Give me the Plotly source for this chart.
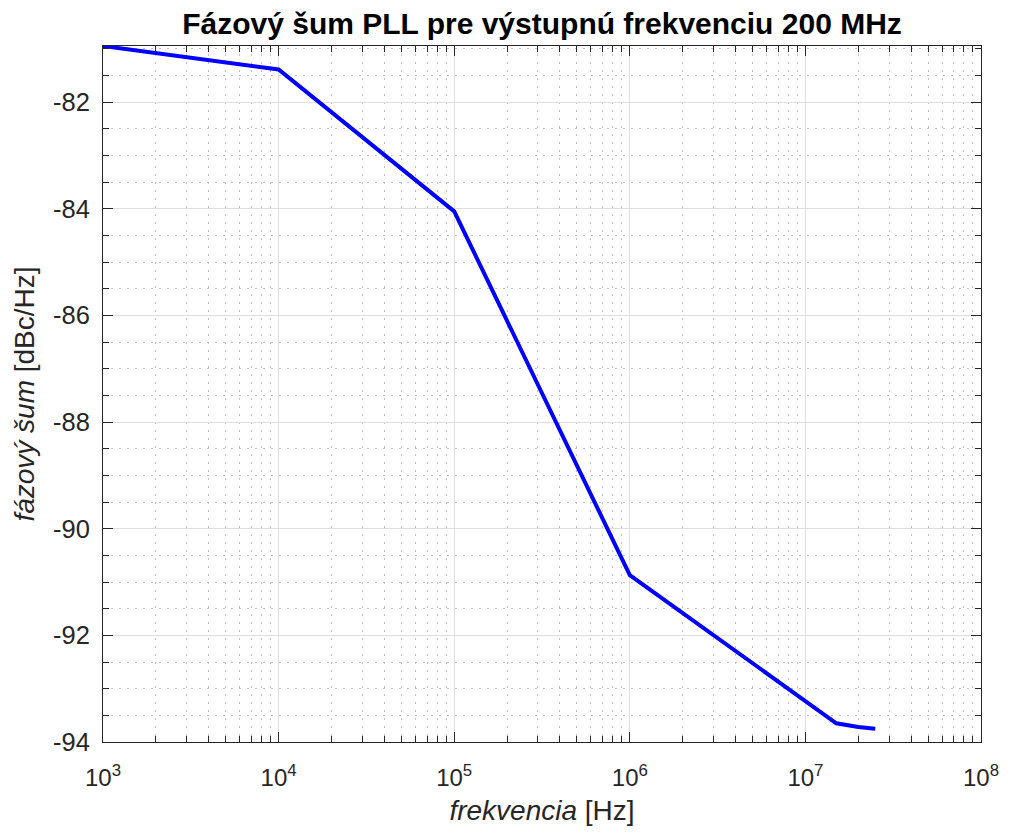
import plotly.graph_objects as go

# Data
freq_hz = [1e3, 1e4, 1e5, 1e6, 1.5e7, 2e7, 2.5e7]
phase_noise_dbc = [-80.95, -81.39, -84.05, -90.87, -93.65, -93.72, -93.75]

x_major_exp = [3, 4, 5, 6, 7, 8]
x_tick_text = ["10<sup>%d</sup>" % e for e in x_major_exp]
y_major = [-94, -92, -90, -88, -86, -84, -82]
y_tick_text = [str(v) for v in y_major]

title_text = "<b>Fázový šum PLL pre výstupnú frekvenciu 200 MHz</b>"
x_title = "<i>frekvencia</i> [Hz]"
y_title = "<i>fázový šum</i> [dBc/Hz]"

x_major_vals = [10 ** e for e in x_major_exp]
x_minor_vals = [m * 10 ** e for e in x_major_exp[:-1] for m in range(2, 10)]
y_minor_vals = [v / 2 for v in range(-188, -161)]

FONT = "Liberation Sans, Arial, Helvetica, sans-serif"
TXT = "#262626"

W, H = 1009, 834
L, R, T, B = 95, 36, 38, 100

fig = go.Figure()
fig.add_trace(go.Scatter(
    x=freq_hz, y=phase_noise_dbc, mode="lines",
    line=dict(color="#0000ff", width=4),
    showlegend=False, hoverinfo="x+y",
))

axis_common = dict(
    showline=True, linecolor=TXT, linewidth=1, mirror="ticks",
    ticks="inside", tickcolor=TXT, ticklen=10, tickwidth=1,
    showgrid=True, gridcolor="#dedede", gridwidth=1,
    zeroline=False,
)
minor_common = dict(tickmode="array", ticks="inside", ticklen=6, tickcolor=TXT,
                    showgrid=True, gridcolor="#c2c2c2", griddash="2px,6px",
                    gridwidth=1)

fig.update_layout(
    width=W, height=H,
    paper_bgcolor="white", plot_bgcolor="white",
    margin=dict(l=L, r=R, t=T, b=B, autoexpand=False),
    title=dict(text=title_text, x=(L + (W - R)) / 2 / W, xanchor="center",
               y=1 - 15.5 / H, yanchor="middle",
               font=dict(family=FONT, size=30, color="#000000")),
    xaxis=dict(
        type="log", range=[3, 8], tickmode="array",
        tickvals=x_major_vals, ticktext=x_tick_text,
        tickfont=dict(family=FONT, size=24, color=TXT),
        ticklabelstandoff=14,
        title=dict(text=x_title, standoff=10,
                   font=dict(family=FONT, size=28, color=TXT)),
        minor=dict(tickvals=x_minor_vals, **minor_common),
        **axis_common,
    ),
    yaxis=dict(
        range=[-94, -80.95], tickmode="array",
        tickvals=y_major, ticktext=y_tick_text,
        tickfont=dict(family=FONT, size=25.5, color=TXT),
        ticklabelstandoff=7,
        title=dict(text=y_title, standoff=10,
                   font=dict(family=FONT, size=28, color=TXT)),
        minor=dict(tickvals=y_minor_vals, **minor_common),
        **axis_common,
    ),
)

fig.write_html("out.html")
